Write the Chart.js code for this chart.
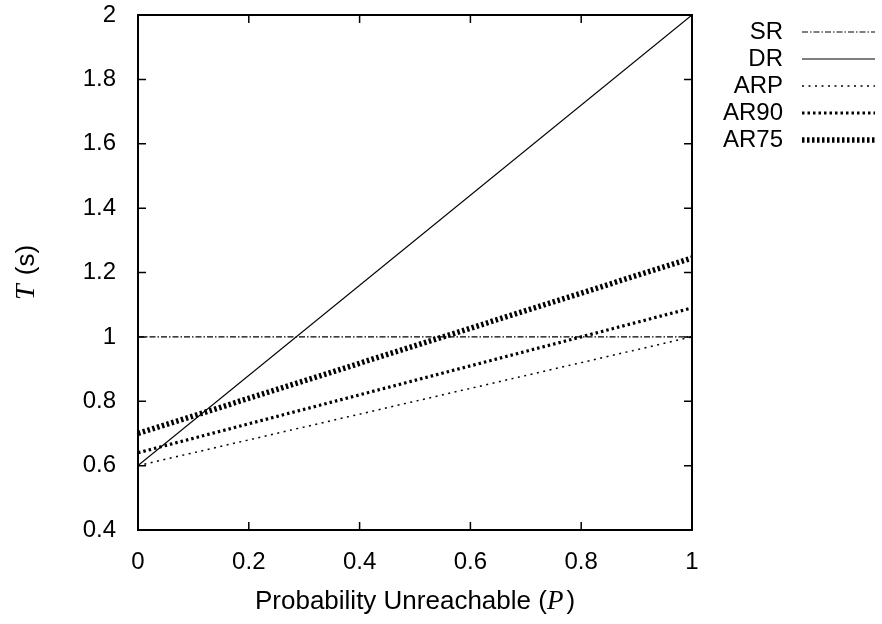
<!DOCTYPE html>
<html>
<head>
<meta charset="utf-8">
<script src="https://cdn.jsdelivr.net/npm/chart.js@4"></script>
<style>
  html, body { margin: 0; padding: 0; background: #fff; }
  #wrap { width: 882px; height: 624px; }
</style>
</head>
<body>
<div id="wrap"><canvas id="c" width="882" height="624"></canvas></div>
<script>
// 데이터
const pValues = [0, 1];
const srValues = [1, 1];
const drValues = [0.6, 2];
const arpValues = [0.6, 1.0];
const ar90Values = [0.64, 1.09];
const ar75Values = [0.7, 1.245];
const seriesNames = ['SR', 'DR', 'ARP', 'AR90', 'AR75'];
const xTicks = [0, 0.2, 0.4, 0.6, 0.8, 1];
const yTicks = [0.4, 0.6, 0.8, 1, 1.2, 1.4, 1.6, 1.8, 2];

const FONT = '"Liberation Sans", Arial, sans-serif';
const SERIF = '"Liberation Serif", "DejaVu Serif", serif';

function pts(ys) {
    return pValues.map((x, i) => ({ x: x, y: ys[i] }));
}

// 선 스타일
const styles = [
    { width: 1.2, dash: [6, 2, 1.5, 2] },
    { width: 1.2, dash: [] },
    { width: 1.5, dash: [2, 4.5] },
    { width: 3.2, dash: [2.5, 3] },
    { width: 5.5, dash: [2.5, 2.5] }
];

const datasets = [srValues, drValues, arpValues, ar90Values, ar75Values].map((vals, i) => ({
    label: seriesNames[i],
    data: pts(vals),
    borderColor: '#000',
    borderWidth: styles[i].width,
    borderDash: styles[i].dash,
    pointRadius: 0,
    fill: false,
    tension: 0
}));

// 프레임, 안쪽 눈금, 범례, 축 제목
const framePlugin = {
    id: 'frame',
    afterDraw(chart) {
        const ctx = chart.ctx;
        const a = chart.chartArea;
        const xs = chart.scales.x, ys = chart.scales.y;
        ctx.save();
        ctx.strokeStyle = '#000';
        ctx.lineWidth = 2;
        ctx.setLineDash([]);
        ctx.strokeRect(a.left, a.top, a.right - a.left, a.bottom - a.top);
        ctx.lineWidth = 1.5;
        const tl = 8;
        ctx.beginPath();
        xTicks.forEach(v => {
            const px = xs.getPixelForValue(v);
            ctx.moveTo(px, a.bottom); ctx.lineTo(px, a.bottom - tl);
            ctx.moveTo(px, a.top); ctx.lineTo(px, a.top + tl);
        });
        yTicks.forEach(v => {
            const py = ys.getPixelForValue(v);
            ctx.moveTo(a.left, py); ctx.lineTo(a.left + tl, py);
            ctx.moveTo(a.right, py); ctx.lineTo(a.right - tl, py);
        });
        ctx.stroke();

        // 범례
        ctx.font = '24px ' + FONT;
        ctx.fillStyle = '#000';
        ctx.textAlign = 'right';
        ctx.textBaseline = 'middle';
        chart.data.datasets.forEach((ds, i) => {
            const y = 32 + i * 27;
            ctx.fillText(ds.label, 783, y);
            ctx.beginPath();
            ctx.lineWidth = ds.borderWidth;
            ctx.setLineDash(ds.borderDash);
            ctx.moveTo(802, y);
            ctx.lineTo(875, y);
            ctx.stroke();
        });
        ctx.setLineDash([]);

        // x축 제목
        const xa = 'Probability Unreachable (';
        const xb = 'P';
        const xc = ')';
        ctx.textAlign = 'left';
        ctx.textBaseline = 'alphabetic';
        ctx.font = '26px ' + FONT;
        const wa = ctx.measureText(xa).width, wc = ctx.measureText(xc).width;
        ctx.font = 'italic 27px ' + SERIF;
        const wb = ctx.measureText(xb).width + 3;
        let x0 = (a.left + a.right) / 2 - (wa + wb + wc) / 2;
        const yb = 609;
        ctx.font = '26px ' + FONT;
        ctx.fillText(xa, x0, yb);
        ctx.font = 'italic 27px ' + SERIF;
        ctx.fillText(xb, x0 + wa, yb);
        ctx.font = '26px ' + FONT;
        ctx.fillText(xc, x0 + wa + wb, yb);

        // y축 제목
        ctx.translate(34, (a.top + a.bottom) / 2);
        ctx.rotate(-Math.PI / 2);
        const ya = 'T', yb2 = ' (s)';
        ctx.font = 'italic 28px ' + SERIF;
        const wya = ctx.measureText(ya).width + 2;
        ctx.font = '26px ' + FONT;
        const wyb = ctx.measureText(yb2).width;
        const y0 = -(wya + wyb) / 2;
        ctx.font = 'italic 28px ' + SERIF;
        ctx.fillText(ya, y0, 0);
        ctx.font = '26px ' + FONT;
        ctx.fillText(yb2, y0 + wya, 0);
        ctx.restore();
    }
};

new Chart(document.getElementById('c').getContext('2d'), {
    type: 'line',
    data: { datasets: datasets },
    options: {
        responsive: false,
        animation: false,
        events: [],
        layout: { padding: { top: 15, right: 190, left: 0, bottom: 0 } },
        plugins: {
            legend: { display: false },
            title: { display: false },
            tooltip: { enabled: false }
        },
        scales: {
            x: {
                type: 'linear',
                min: 0,
                max: 1,
                afterBuildTicks: s => { s.ticks = xTicks.map(v => ({ value: v })); },
                afterFit: s => { s.height = 94; s.paddingLeft = 0; s.paddingRight = 0; },
                grid: { drawOnChartArea: false, drawTicks: false },
                border: { display: false },
                ticks: {
                    padding: 18,
                    color: '#000',
                    font: { family: FONT, size: 24 },
                    callback: v => String(+v.toFixed(1))
                }
            },
            y: {
                type: 'linear',
                min: 0.4,
                max: 2,
                afterBuildTicks: s => { s.ticks = yTicks.map(v => ({ value: v })); },
                afterFit: s => { s.width = 138; s.paddingTop = 0; s.paddingBottom = 0; },
                grid: { drawOnChartArea: false, drawTicks: false },
                border: { display: false },
                ticks: {
                    padding: 22,
                    color: '#000',
                    font: { family: FONT, size: 24 },
                    callback: v => String(+v.toFixed(1))
                }
            }
        }
    },
    plugins: [framePlugin]
});
</script>
</body>
</html>
